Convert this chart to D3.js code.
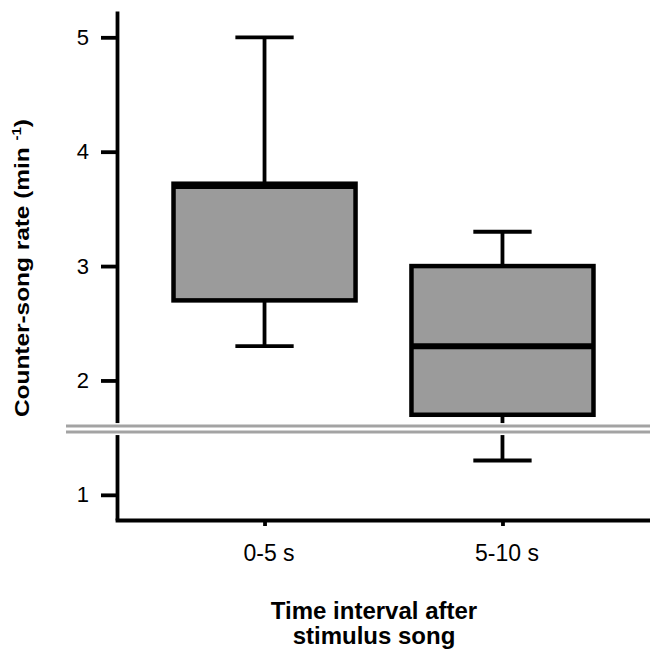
<!DOCTYPE html>
<html>
<head>
<meta charset="utf-8">
<script src="https://cdn.jsdelivr.net/npm/d3@7"></script>
<style>
  html, body { margin: 0; padding: 0; background: #fff; }
  svg { display: block; }
  text { font-family: "Liberation Sans", Arial, Helvetica, sans-serif; fill: #000; }
</style>
</head>
<body>
<svg id="chart" width="650" height="651"></svg>
<script>
// Data
const categories = ["0-5 s", "5-10 s"];
const whiskerLow = [2.3, 1.3];
const q1 = [2.7, 1.7];
const median = [3.7, 2.3];
const q3 = [3.72, 3.0];
const whiskerHigh = [5.0, 3.3];
const yTicks = [1, 2, 3, 4, 5];
const breakValue = 1.575; // axis-break marker position

const svg = d3.select("#chart");

const y = d3.scaleLinear().domain([0.78, 5.23]).range([520, 11]);
const x = d3.scalePoint().domain(categories).range([117, 650]).padding(0.62);
const step = x.step();
const boxW = step * 0.765;
const capW = step * 0.245;

const boxes = categories.map((c, i) => ({
  c, lo: whiskerLow[i], q1: q1[i], med: median[i], q3: q3[i], hi: whiskerHigh[i]
}));

const g = svg.append("g");

// Whiskers
g.selectAll(".whisker").data(boxes).enter().append("line")
  .attr("x1", d => x(d.c)).attr("x2", d => x(d.c))
  .attr("y1", d => y(d.lo)).attr("y2", d => y(d.hi))
  .attr("stroke", "#000").attr("stroke-width", 3.8);

// Caps
["lo", "hi"].forEach(k => {
  g.selectAll(".cap-" + k).data(boxes).enter().append("line")
    .attr("x1", d => x(d.c) - capW / 2).attr("x2", d => x(d.c) + capW / 2)
    .attr("y1", d => y(d[k])).attr("y2", d => y(d[k]))
    .attr("stroke", "#000").attr("stroke-width", 3.8);
});

// Boxes
g.selectAll(".box").data(boxes).enter().append("rect")
  .attr("x", d => x(d.c) - boxW / 2)
  .attr("width", boxW)
  .attr("y", d => y(d.q3))
  .attr("height", d => y(d.q1) - y(d.q3))
  .attr("fill", "#9b9b9b")
  .attr("stroke", "#000").attr("stroke-width", 4.5);

// Medians
g.selectAll(".median").data(boxes).enter().append("line")
  .attr("x1", d => x(d.c) - boxW / 2).attr("x2", d => x(d.c) + boxW / 2)
  .attr("y1", d => y(d.med)).attr("y2", d => y(d.med))
  .attr("stroke", "#000").attr("stroke-width", 6);

// Y axis
const yAxis = svg.append("g").attr("transform", "translate(117,0)")
  .call(d3.axisLeft(y).tickValues(yTicks).tickFormat(d3.format("d")).tickSize(16).tickSizeOuter(0).tickPadding(12));
yAxis.select(".domain").attr("stroke-width", 3.8);
yAxis.selectAll(".tick line").attr("stroke-width", 3.8);
yAxis.selectAll(".tick text").style("font-size", "22px").attr("fill", "#000")
  .style("font-family", "'Liberation Sans', Arial, sans-serif");

// X axis
const xAxis = svg.append("g").attr("transform", "translate(0,520)")
  .call(d3.axisBottom(x).tickSize(6).tickSizeOuter(0).tickPadding(19));
xAxis.select(".domain").attr("stroke-width", 3.8).attr("stroke-linecap", "square");
xAxis.selectAll(".tick line").attr("stroke-width", 3.8);
xAxis.selectAll(".tick text").style("font-size", "23px").attr("fill", "#000")
  .style("font-family", "'Liberation Sans', Arial, sans-serif")
  .attr("dx", 4);

// Axis break marker (double gray line)
const by = y(breakValue);
svg.append("rect").attr("x", 66).attr("width", 650 - 66)
  .attr("y", by - 6).attr("height", 12).attr("fill", "#fff");
[-3, 3].forEach(o => {
  svg.append("line").attr("x1", 66).attr("x2", 650)
    .attr("y1", by + o).attr("y2", by + o)
    .attr("stroke", "#a3a3a3").attr("stroke-width", 3);
});

// Y axis title
const yt = svg.append("text")
  .attr("transform", "translate(29,268) rotate(-90)")
  .attr("text-anchor", "middle")
  .style("font-size", "21px").style("font-weight", "bold")
  .attr("textLength", 298).attr("lengthAdjust", "spacingAndGlyphs");
yt.append("tspan").text("Counter-song rate (min ");
yt.append("tspan").attr("dy", -8).style("font-size", "13px").text("-1");
yt.append("tspan").attr("dy", 8).text(")");

// X axis title
svg.append("text").attr("x", 374).attr("y", 619).attr("text-anchor", "middle")
  .style("font-size", "24px").style("font-weight", "bold").text("Time interval after");
svg.append("text").attr("x", 374).attr("y", 644).attr("text-anchor", "middle")
  .style("font-size", "24px").style("font-weight", "bold").text("stimulus song");
</script>
</body>
</html>
